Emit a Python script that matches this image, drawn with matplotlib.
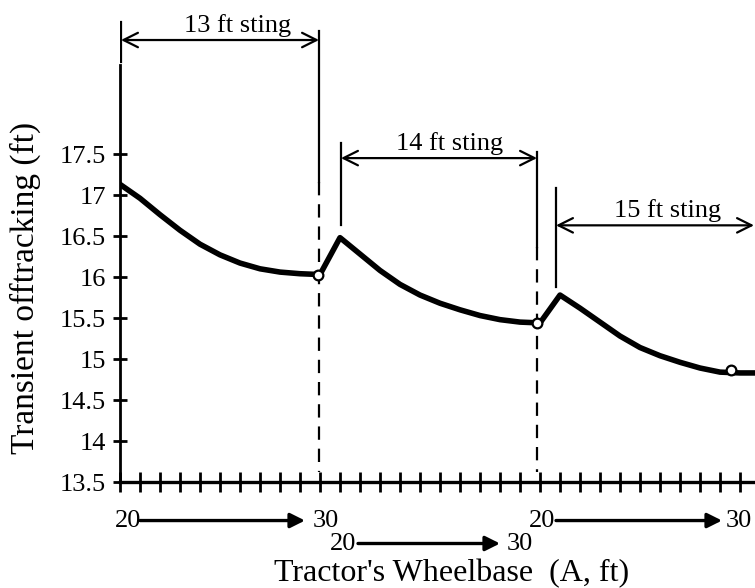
import numpy as np
import matplotlib
matplotlib.use("Agg")
import matplotlib.pyplot as plt

plt.rcParams['font.family'] = ['Liberation Serif', 'DejaVu Serif']

# === data
wheelbase = np.arange(20, 31)          # ft, same 20..30 for each sting
seg_start = [0, 11, 22]                # where each sting block starts on the shared axis
stings = ["13 ft sting", "14 ft sting", "15 ft sting"]
off_13 = [17.13, 16.96, 16.76, 16.57, 16.40, 16.27, 16.17, 16.10, 16.06, 16.04, 16.03]
off_14 = [16.48, 16.28, 16.08, 15.91, 15.78, 15.68, 15.60, 15.53, 15.48, 15.45, 15.44]
off_15 = [15.78, 15.62, 15.45, 15.28, 15.14, 15.04, 14.96, 14.89, 14.84, 14.83, 14.83]
circle_x = [9.9, 20.85, 30.55]
circle_y = [16.03, 15.44, 14.86]
yticks = [13.5, 14, 14.5, 15, 15.5, 16, 16.5, 17, 17.5]
ytick_labels = ["13.5", "14", "14.5", "15", "15.5", "16", "16.5", "17", "17.5"]

fig = plt.figure(figsize=(7.55, 5.88), dpi=100)
ax = fig.add_axes([120/755, 106/588, 635/755, 482/588])

# one continuous curve through the three blocks
xs, ys = [], []
for s, off in zip(seg_start, [off_13, off_14, off_15]):
    xs += list(s + (wheelbase - 20))
    ys += off
ax.plot(xs, ys, color='k', lw=4.0, solid_joinstyle='round', zorder=3)
ax.plot(circle_x, circle_y, 'o', ms=7, mfc='white', mec='k', mew=1.6, zorder=4)

# separators between blocks: solid top, dashed down to the axis
ax.plot([9.95, 9.95], [19.0, 17.16], color='k', lw=1.6)
ax.plot([9.95, 9.95], [17.16, 13.62], color='k', lw=1.6, ls=(0, (6, 4)))
ax.plot([20.85, 20.85], [17.52, 16.37], color='k', lw=1.6)
ax.plot([20.85, 20.85], [16.37, 13.62], color='k', lw=1.6, ls=(0, (6, 4)))
# left markers of each bracket
ax.plot([0.05, 0.05], [19.11, 18.62], color='k', lw=1.6)
ax.plot([11.05, 11.05], [17.63, 16.63], color='k', lw=1.6)
ax.plot([21.8, 21.8], [17.09, 15.88], color='k', lw=1.6)

# sting brackets
brackets = [(0.05, 9.95, 18.89), (11.05, 20.85, 17.45), (21.8, 31.7, 16.63)]
text_x = [5.9, 16.5, 27.4]
for (x0, x1, yb), tx, name in zip(brackets, text_x, stings):
    ax.annotate("", xy=(x1, yb), xytext=(x0, yb),
                arrowprops=dict(arrowstyle='<->', color='k', lw=1.6, mutation_scale=26,
                                shrinkA=0, shrinkB=0), annotation_clip=False)
    ax.text(tx, yb + 0.04, name, ha='center', va='bottom', fontsize=19)

# wheelbase range labels under the axis
rows = [(0.4, 10.3, 1.0, 9.25, 13.03), (11.15, 20.0, 11.9, 19.0, 12.75),
        (21.1, 30.95, 21.8, 30.1, 13.03)]
for t20, t30, a0, a1, yr in rows:
    ax.text(t20, yr, "20", ha='center', va='center', fontsize=19, clip_on=False)
    ax.text(t30, yr, "30", ha='center', va='center', fontsize=19, clip_on=False)
    ax.annotate("", xy=(a1, yr), xytext=(a0, yr),
                arrowprops=dict(arrowstyle='-|>', color='k', lw=2.4, mutation_scale=22,
                                shrinkA=0, shrinkB=0), annotation_clip=False)

# === axes
ax.set_xlim(0, 31.75)
ax.set_ylim(13.5, 13.5 + 482/82)
for side in ['top', 'right']:
    ax.spines[side].set_visible(False)
ax.spines['left'].set_bounds(13.5, 18.585)
ax.spines['left'].set_linewidth(2)
ax.spines['bottom'].set_linewidth(2.4)
ax.set_xticks(np.arange(0, 32))
ax.set_xticklabels([])
ax.set_yticks(yticks)
ax.set_yticklabels(ytick_labels)
ax.tick_params(axis='x', direction='inout', length=14, width=2)
ax.tick_params(axis='y', direction='inout', length=10, width=2, labelsize=19, pad=5)
ax.patch.set_alpha(0)

fig.text(25/755, 1 - 288/588, "Transient offtracking (ft)", rotation=90,
         ha='center', va='center', fontsize=24)
fig.text(452/755, 1 - 581/588, "Tractor's Wheelbase  (A, ft)",
         ha='center', va='baseline', fontsize=23)

fig.savefig("out.png", dpi=100)
